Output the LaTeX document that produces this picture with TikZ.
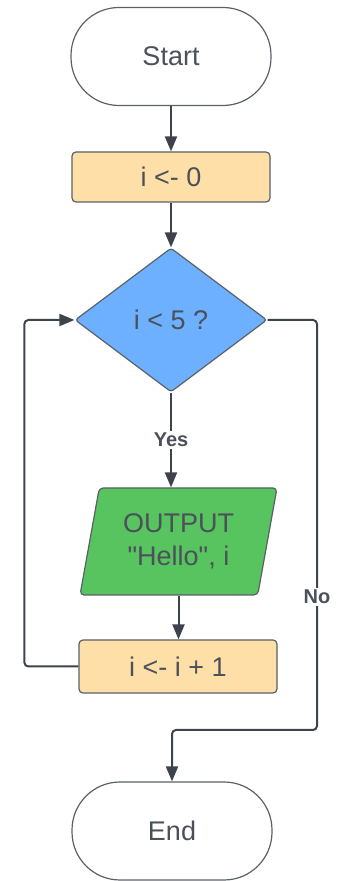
\documentclass[tikz,border=0pt]{standalone}
\usepackage{fontspec}
\setmainfont{Liberation Sans}
\usetikzlibrary{shapes.geometric, arrows.meta}

\definecolor{procfill}{HTML}{FFDFA8}
\definecolor{decfill}{HTML}{6CB0FF}
\definecolor{iofill}{HTML}{57C45F}
\definecolor{edgegray}{HTML}{5B6068}
\definecolor{linegray}{HTML}{3D434C}
\definecolor{txtgray}{HTML}{4B5059}

\begin{document}
\begin{tikzpicture}[x = 10pt, y = 10pt,
  every node/.style = {font = \fontsize{27}{33}\selectfont, text = txtgray},
  terminal/.style = {draw = edgegray, line width = 1.2pt, rectangle, rounded corners = 48pt,
    minimum width = 200pt, minimum height = 98pt},
  process/.style = {draw = edgegray, line width = 1.2pt, fill = procfill, rounded corners = 4pt,
    minimum width = 198pt, minimum height = 50pt},
  decision/.style = {draw = edgegray, line width = 1.2pt, fill = decfill, diamond, aspect = 1.333,
    minimum width = 192pt, minimum height = 144pt, inner sep = 0pt, rounded corners = 3pt},
  io/.style = {draw = edgegray, line width = 1.2pt, fill = iofill, trapezium, trapezium stretches = true,
    trapezium left angle = 77, trapezium right angle = 103, minimum width = 197pt,
    minimum height = 107pt, rounded corners = 4pt, align = center},
  flow/.style = {draw = linegray, line width = 2pt, rounded corners = 4pt,
    -{Triangle[width = 12pt, length = 15pt]}},
  tag/.style = {fill = white, inner sep = 2pt, font = \bfseries\fontsize{20}{24}\selectfont}]
\useasboundingbox (0, 0) rectangle (33.8, 88.1);
%\draw [very thin, color = gray](0, 0) grid (33.8, 88.1);
\node [terminal] (start) at (17.1, 82.45) {Start};
\node [process] (init) at (17.1, 70.4) {i <- 0};
\node [decision] (test) at (17.1, 56.1) {i < 5 ?};
\node [io] (output) at (17.85, 33.95) {OUTPUT\\\textquotedbl Hello\textquotedbl, i};
\node [process, minimum height = 53pt] (incr) at (17.8, 21.45) {i <- i + 1};
\node [terminal] (stop) at (17.2, 5.0) {End};
\coordinate (nobend) at (31.7, 15.1);
\draw [flow] (start) -- (init);
\draw [flow] (init) -- (test);
\draw [flow] (test.south) -- node [tag] {Yes} (test.south |- output.north);
\draw [flow] (output.south) -- (output.south |- incr.north);
\draw [flow] (incr.west) -- ++(-5.4, 0) |- (test.west);
\draw [flow] (test.east) -| (nobend) -| (stop.north);
\node [tag] (nolabel) at (31.7, 28.4) {No};
\end{tikzpicture}
\end{document}
